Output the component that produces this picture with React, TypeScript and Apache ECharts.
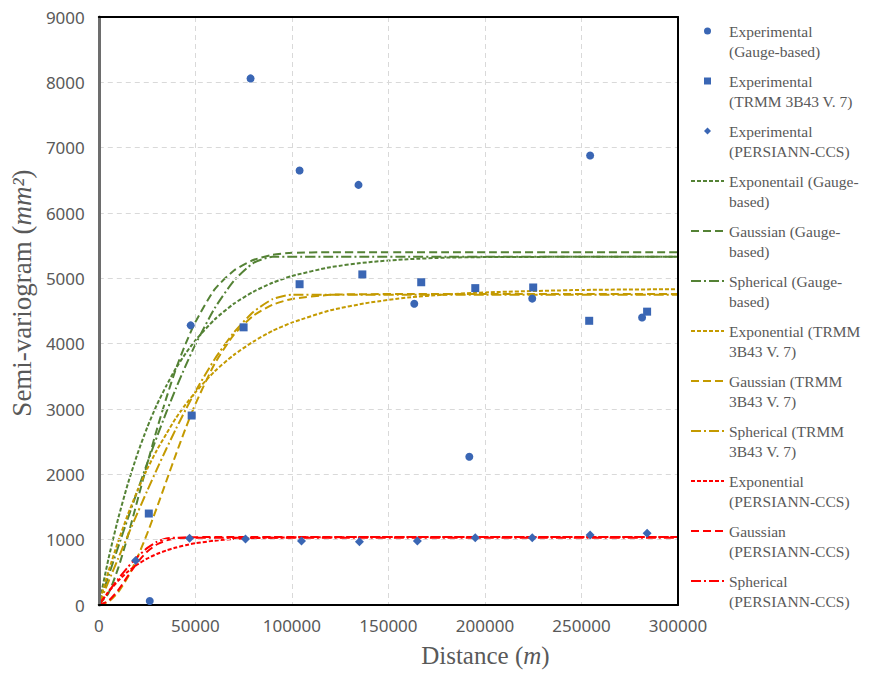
import React, { useEffect, useRef } from "react";
import * as echarts from "echarts";

// Experimental semi-variogram points [distance m, value mm^2]
const gaugeDist = [26400, 47600, 78600, 104000, 134500, 163400, 191900, 224500, 254500, 281400];
const gaugeVal = [60, 4280, 8060, 6650, 6430, 4610, 2270, 4690, 6880, 4400];
const trmmDist = [25900, 48100, 75000, 104000, 136500, 167000, 195000, 225000, 254000, 284000];
const trmmVal = [1400, 2900, 4250, 4910, 5060, 4940, 4850, 4860, 4350, 4490];
const persDist = [19100, 47000, 76000, 105000, 135000, 165000, 195000, 224500, 254500, 284000];
const persVal = [680, 1020, 1010, 980, 970, 980, 1030, 1030, 1070, 1100];

// Fitted model curves, read at these distances
const modelDist = [0, 5000, 10000, 15000, 20000, 25000, 30000, 35000, 40000, 45000, 50000, 60000, 70000, 80000, 90000, 100000, 120000, 140000, 160000, 180000, 200000, 250000, 300000];
const gaugeExp = [0, 706, 1319, 1851, 2311, 2712, 3060, 3357, 3627, 3852, 4050, 4371, 4612, 4794, 4932, 5035, 5171, 5248, 5292, 5317, 5325, 5330, 5332];
const gaugeGau = [0, 180, 560, 1050, 1600, 2150, 2680, 3170, 3620, 4000, 4330, 4830, 5120, 5280, 5360, 5390, 5400, 5400, 5400, 5400, 5400, 5400, 5400];
const gaugeSph = [0, 444, 885, 1320, 1748, 2163, 2566, 2953, 3319, 3664, 3985, 4541, 4963, 5234, 5330, 5330, 5330, 5330, 5330, 5330, 5330, 5330, 5330];
const trmmExp = [0, 513, 968, 1380, 1747, 2077, 2366, 2620, 2865, 3070, 3256, 3577, 3829, 4031, 4196, 4322, 4511, 4628, 4706, 4753, 4785, 4822, 4834];
const trmmGau = [0, 49, 194, 424, 728, 1088, 1484, 1898, 2310, 2707, 3074, 3692, 4138, 4426, 4595, 4685, 4748, 4758, 4760, 4760, 4760, 4760, 4760];
const trmmSph = [0, 356, 710, 1061, 1406, 1744, 2073, 2392, 2698, 2990, 3266, 3762, 4173, 4484, 4681, 4750, 4750, 4750, 4750, 4750, 4750, 4750, 4750];
const persExp = [0, 200, 370, 510, 620, 710, 780, 835, 880, 915, 945, 985, 1010, 1025, 1030, 1035, 1038, 1040, 1040, 1040, 1040, 1040, 1040];
const persGau = [0, 62, 226, 441, 650, 816, 926, 988, 1020, 1032, 1038, 1040, 1040, 1040, 1040, 1040, 1040, 1040, 1040, 1040, 1040, 1040, 1040];
const persSph = [0, 202, 397, 578, 738, 870, 966, 1020, 1030, 1030, 1030, 1030, 1030, 1030, 1030, 1030, 1030, 1030, 1030, 1030, 1030, 1030, 1030];

const legendNames = [
  "Experimental\n(Gauge-based)",
  "Experimental\n(TRMM 3B43 V. 7)",
  "Experimental\n(PERSIANN-CCS)",
  "Exponentail (Gauge-\nbased)",
  "Gaussian (Gauge-\nbased)",
  "Spherical (Gauge-\nbased)",
  "Exponential (TRMM\n3B43 V. 7)",
  "Gaussian (TRMM\n3B43 V. 7)",
  "Spherical (TRMM\n3B43 V. 7)",
  "Exponential\n(PERSIANN-CCS)",
  "Gaussian\n(PERSIANN-CCS)",
  "Spherical\n(PERSIANN-CCS)",
];

const GREEN = "#548235";
const GOLD = "#C49A00";
const RED = "#FF0000";
const BLUE = "#3A66B4";

const ICON_CIRCLE = "path://M5,0A5,5,0,1,1,5,10A5,5,0,1,1,5,0Z";
const ICON_SQUARE = "path://M0,0L10,0L10,10L0,10Z";
const ICON_DIAMOND = "path://M5,0L10,5L5,10L0,5Z";
const markerIcons = [ICON_CIRCLE, ICON_SQUARE, ICON_DIAMOND];

const pairs = (xs: number[], ys: number[]) => xs.map((x, i) => [x, ys[i]]);

export default function App() {
  const ref = useRef<HTMLDivElement>(null);
  useEffect(() => {
    const chart = echarts.init(ref.current!, null, { renderer: "svg" });
    const DASH_EXP = [4, 2];
    const DASH_GAU = [8, 4];
    const DASH_SPH = [10, 3, 2, 3];
    const lineSeries = (name: string, ys: number[], color: string, dash: number[]) => ({
      name,
      type: "line",
      data: pairs(modelDist, ys),
      showSymbol: false,
      symbol: "none",
      smooth: 0.2,
      lineStyle: { color, width: 2, type: dash },
      itemStyle: { color },
      z: 2,
    });
    const scatterSeries = (name: string, xs: number[], ys: number[], symbol: string, size: number) => ({
      name,
      type: "scatter",
      data: pairs(xs, ys),
      symbol,
      symbolSize: size,
      itemStyle: { color: BLUE, opacity: 1 },
      z: 5,
    });
    const frameAxisCommon = {
      axisTick: { show: false },
      axisLabel: { show: false },
      splitLine: { show: false },
      axisLine: { show: true, onZero: false, lineStyle: { color: "#000", width: 2 } },
      z: 3,
    };
    const splitLine = { lineStyle: { color: "#d9d9d9", type: [5, 4], width: 1 }, showMinLine: false, showMaxLine: false };
    chart.setOption({
      animation: false,
      backgroundColor: "#fff",
      grid: { left: 98, right: 198, top: 17, bottom: 69 },
      legend: {
        orient: "vertical",
        left: 690,
        top: 1,
        padding: 0,
        itemGap: -10,
        itemWidth: 33,
        itemHeight: 7,
        formatter: (name: string) => " \n" + name,
        data: legendNames.map((name, i) =>
          i < 3
            ? { name, icon: markerIcons[i] }
            : { name, itemStyle: { opacity: 0, borderWidth: 0 } }
        ),
        textStyle: {
          fontFamily: "Liberation Serif",
          fontSize: 15.5,
          lineHeight: 20,
          color: "#595959",
        },
      },
      xAxis: [
        {
          type: "value",
          min: 0,
          max: 300000,
          interval: 50000,
          name: "{r|Distance (}{i|m}{r|)}",
          nameLocation: "middle",
          nameGap: 38,
          nameTextStyle: {
            padding: [0, 0, 0, 194],
            rich: {
              r: { fontFamily: "Liberation Serif", fontSize: 25, color: "#595959" },
              i: { fontFamily: "Liberation Serif", fontSize: 25, fontStyle: "italic", color: "#595959" },
            },
          },
          axisLine: { onZero: false, lineStyle: { color: "#000", width: 2 } },
          axisTick: { show: false },
          axisLabel: { color: "#595959", fontFamily: "Noto Sans", fontSize: 17, margin: 12, formatter: (v: number) => String(v) },
          splitLine,
          z: 3,
        },
        { type: "value", min: 0, max: 300000, position: "top", ...frameAxisCommon },
      ],
      yAxis: [
        {
          type: "value",
          min: 0,
          max: 9000,
          interval: 1000,
          name: "{r|Semi-variogram (}{i|mm²}{r|)}",
          nameLocation: "middle",
          nameGap: 52,
          nameTextStyle: {
            padding: [0, 0, 0, 36],
            rich: {
              r: { fontFamily: "Liberation Serif", fontSize: 27, color: "#595959" },
              i: { fontFamily: "Liberation Serif", fontSize: 27, fontStyle: "italic", color: "#595959" },
            },
          },
          axisLine: { onZero: false, lineStyle: { color: "#6d6d6d", width: 3 } },
          axisTick: { show: false },
          axisLabel: { color: "#595959", fontFamily: "Noto Sans", fontSize: 17, margin: 14, formatter: (v: number) => String(v) },
          splitLine,
          z: 3,
        },
        { type: "value", min: 0, max: 9000, position: "right", ...frameAxisCommon },
      ],
      series: [
        scatterSeries(legendNames[0], gaugeDist, gaugeVal, "circle", 8),
        scatterSeries(legendNames[1], trmmDist, trmmVal, "rect", 8),
        scatterSeries(legendNames[2], persDist, persVal, "diamond", 9),
        lineSeries(legendNames[3], gaugeExp, GREEN, DASH_EXP),
        lineSeries(legendNames[4], gaugeGau, GREEN, DASH_GAU),
        lineSeries(legendNames[5], gaugeSph, GREEN, DASH_SPH),
        lineSeries(legendNames[6], trmmExp, GOLD, DASH_EXP),
        lineSeries(legendNames[7], trmmGau, GOLD, DASH_GAU),
        lineSeries(legendNames[8], trmmSph, GOLD, DASH_SPH),
        lineSeries(legendNames[9], persExp, RED, DASH_EXP),
        lineSeries(legendNames[10], persGau, RED, DASH_GAU),
        lineSeries(legendNames[11], persSph, RED, DASH_SPH),
      ],
    });
    return () => chart.dispose();
  }, []);
  return <div ref={ref} style={{ width: 876, height: 674, position: "absolute", left: 0, top: 0 }} />;
}
